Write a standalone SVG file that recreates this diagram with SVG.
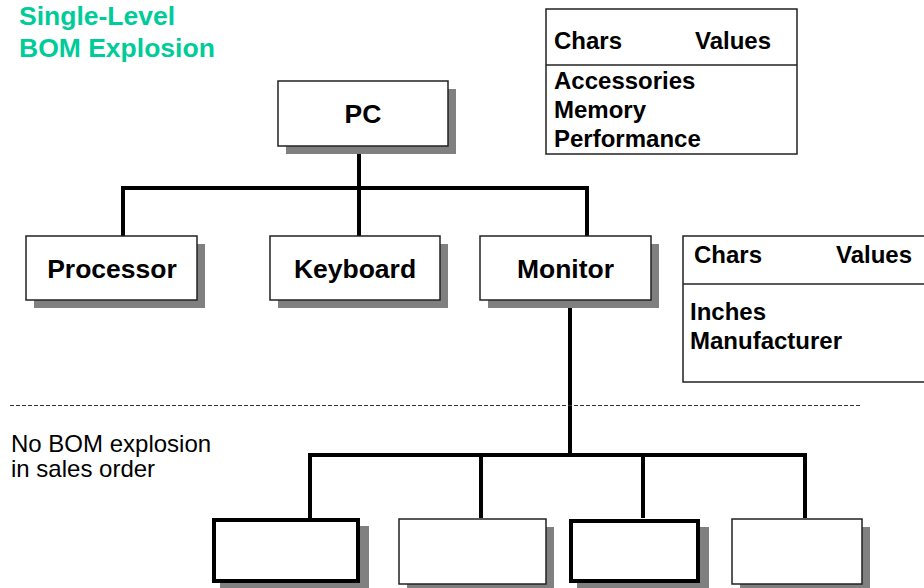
<svg xmlns="http://www.w3.org/2000/svg" width="924" height="588" viewBox="0 0 924 588">
<style>
.shadow{fill:#808080}
.box{fill:#fff;stroke:#222;stroke-width:1.5}
.thick{fill:#fff;stroke:#000;stroke-width:4}
.lbl{font-family:"Liberation Sans",Arial,sans-serif;font-weight:bold;font-size:26.5px;fill:#000;text-anchor:middle}
.tbl{font-family:"Liberation Sans",Arial,sans-serif;font-weight:bold;font-size:24px;fill:#000}
.title{font-family:"Liberation Sans",Arial,sans-serif;font-weight:bold;font-size:26.5px;fill:#00CC99}
.note{font-family:"Liberation Sans",Arial,sans-serif;font-size:24px;fill:#000}
.conn{fill:none;stroke:#000;stroke-width:4;stroke-linejoin:miter;stroke-linecap:butt}
</style>
<rect width="924" height="588" fill="#fff"/>
<g id="title">
<text class="title" x="19" y="25">Single-Level</text>
<text class="title" x="19" y="57">BOM Explosion</text>
</g>
<g id="connectors">
<path class="conn" d="M123 236 V188 H587 V236"/>
<path class="conn" d="M359 154 V236"/>
<path class="conn" d="M570 308 V455"/>
<path class="conn" d="M310 518 V455 H805 V518"/>
<path class="conn" d="M481 455 V518"/>
<path class="conn" d="M643 455 V518"/>
</g>
<line id="separator" x1="10" y1="405.5" x2="862" y2="405.5" stroke="#333" stroke-width="1" stroke-dasharray="4 2"/>
<g id="note">
<text class="note" x="11" y="452">No BOM explosion</text>
<text class="note" x="11" y="477">in sales order</text>
</g>
<g id="pc">
<rect class="shadow" x="286" y="89" width="170" height="65"/>
<rect class="box" x="278" y="81" width="170" height="65"/>
<text class="lbl" x="363" y="123">PC</text>
</g>
<g id="processor">
<rect class="shadow" x="34" y="244" width="171" height="64"/>
<rect class="box" x="26" y="236" width="171" height="64"/>
<text class="lbl" x="112" y="278">Processor</text>
</g>
<g id="keyboard">
<rect class="shadow" x="278" y="244" width="170" height="64"/>
<rect class="box" x="270" y="236" width="170" height="64"/>
<text class="lbl" x="355" y="278">Keyboard</text>
</g>
<g id="monitor">
<rect class="shadow" x="488" y="244" width="171" height="64"/>
<rect class="box" x="480" y="236" width="171" height="64"/>
<text class="lbl" x="565.5" y="278">Monitor</text>
</g>
<g id="pc-chars">
<rect class="box" x="546" y="9" width="251" height="145"/>
<line x1="546" y1="65" x2="797" y2="65" stroke="#222" stroke-width="1.5"/>
<text class="tbl" x="554" y="49">Chars</text>
<text class="tbl" x="695" y="49">Values</text>
<text class="tbl" x="554" y="89">Accessories</text>
<text class="tbl" x="554" y="118">Memory</text>
<text class="tbl" x="554" y="147">Performance</text>
</g>
<g id="monitor-chars">
<rect class="box" x="683" y="236" width="260" height="146"/>
<line x1="683" y1="284" x2="924" y2="284" stroke="#222" stroke-width="1.5"/>
<text class="tbl" x="694" y="263">Chars</text>
<text class="tbl" x="836" y="263">Values</text>
<text class="tbl" x="690" y="320">Inches</text>
<text class="tbl" x="690" y="349">Manufacturer</text>
</g>
<g id="comp1">
<rect class="shadow" x="220" y="526" width="149" height="66"/>
<rect class="thick" x="214" y="520" width="144" height="61"/>
</g>
<g id="comp2">
<rect class="shadow" x="407" y="527" width="147" height="66"/>
<rect class="box" x="399" y="519" width="147" height="65"/>
</g>
<g id="comp3">
<rect class="shadow" x="577" y="527" width="132" height="66"/>
<rect class="thick" x="571" y="521" width="127" height="60"/>
</g>
<g id="comp4">
<rect class="shadow" x="740" y="527" width="130" height="66"/>
<rect class="box" x="732" y="519" width="130" height="65"/>
</g>
</svg>
